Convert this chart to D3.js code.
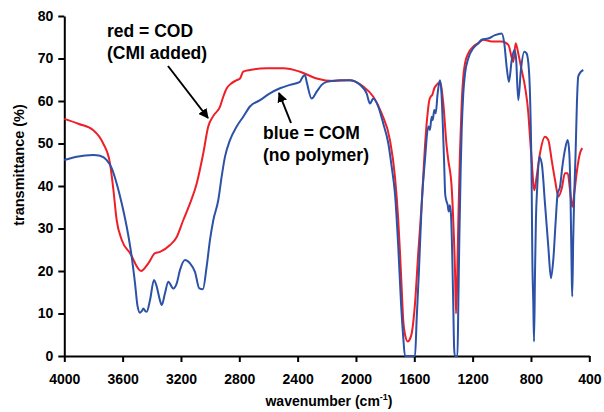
<!DOCTYPE html>
<html>
<head>
<meta charset="utf-8">
<script src="https://cdn.jsdelivr.net/npm/d3@7"></script>
<style>
  html, body { margin: 0; padding: 0; background: #fff; }
  svg { display: block; font-family: "Liberation Sans", Arial, Helvetica, sans-serif; }
</style>
</head>
<body>
<svg id="chart" width="604" height="412"></svg>
<script>
// ---- data ----
const yTicks = [0, 10, 20, 30, 40, 50, 60, 70, 80];
const xTicks = [4000, 3600, 3200, 2800, 2400, 2000, 1600, 1200, 800, 400];

// red = COD (CMI added): [wavenumber, transmittance]
const codWavenumber = [4000,3900,3803,3733,3687,3663,3641,3606,3549,3474,3424,3378,3344,3275,3229,3184,3138,3092,3047,3013,2978,2932,2910,2886,2852,2818,2795,2773,2727,2612,2498,2384,2269,2155,2041,1950,1881,1824,1767,1732,1710,1698,1687,1676,1660,1645,1630,1618,1595,1573,1549,1527,1511,1497,1488,1477,1463,1447,1424,1401,1378,1367,1344,1333,1321,1314,1307,1298,1287,1275,1264,1252,1230,1196,1161,1127,1069,1001,955,921,905,887,864,841,818,807,795,784,777,761,738,704,681,658,635,612,589,567,548,532,517,503,487,464,448];
const codT = [55.8,54.6,53.2,50,45.4,39,32,27.3,24.2,20,21.8,24.2,24.5,26.1,28,32,35.9,40.6,47.7,54,56.5,58.7,61,63,64.2,64.9,65.3,66.9,67.3,67.7,67.7,66.9,65.3,64.7,64.9,63.4,61,57.1,50.8,42,32,24.2,16.3,8.5,4.5,3.4,4.0,5.3,12.4,24.2,35.9,49.3,56.3,60.2,61,61.4,63,63.8,64.5,59.4,49.3,46.1,39.8,32,20.2,10,16.3,32,47.7,59.4,65.7,68.9,71.2,72.8,73.6,74.4,74,74,73.2,69.2,73.6,71.2,67.3,63.4,57.1,51.6,46.1,40.6,39,42.2,47.7,51.6,50.8,46.1,41.4,37.5,39.4,43,43,39,35.1,38.3,43,47.7,48.9];

// blue = COM (no polymer)
const comWavenumber = [4000,3915,3801,3755,3709,3675,3641,3606,3572,3538,3515,3498,3481,3468,3458,3445,3435,3412,3385,3366,3345,3332,3310,3287,3253,3229,3207,3172,3138,3104,3074,3050,3024,3001,2978,2944,2921,2898,2864,2818,2773,2727,2658,2590,2521,2452,2384,2372,2350,2338,2304,2269,2235,2201,2110,2041,1972,1927,1904,1881,1847,1813,1778,1755,1732,1710,1691,1676,1664,1595,1584,1568,1549,1527,1504,1493,1481,1474,1463,1453,1440,1424,1414,1404,1395,1388,1380,1371,1364,1356,1348,1340,1333,1327,1322,1304,1298,1291,1282,1275,1264,1252,1230,1196,1161,1138,1093,1047,1001,983,967,951,932,914,903,887,869,846,830,814,805,795,791,784,779,772,766,757,743,726,704,681,663,647,630,617,601,585,567,548,537,528,521,517,510,503,494,485,476,457,441];
const comT = [46.1,46.9,47.3,47.1,46.1,44.2,40.6,35.9,30.4,23.4,17.1,11.8,10.2,10.6,11.2,10.6,10.4,13.2,17.9,16.3,13.2,12,14.7,17.5,15.9,17.1,20.2,22.6,21.8,19.8,15.9,15.7,21,27.3,32,36.7,42.2,46.9,50.8,54,56.3,58.7,60.2,61.8,63,63.8,64.5,65.3,66.1,64.5,60.6,62.2,63.8,64.5,64.9,64.9,63.8,61.8,59.4,60.6,58.7,54.7,50,44.5,38,25.7,12.4,4.5,0,0,8.5,20.2,35.9,46.1,54,53.2,56.3,55.5,57.9,57.1,61.8,64.9,62,54,45,38,36.5,35.5,34,35.5,33,24,12.4,2,0,0,12.4,28,43.8,53.2,61.8,66.5,70,72.4,73.6,74.4,74.7,75.5,75.9,73.6,68.1,64.5,69.6,72,70.4,60.2,67.3,71.6,71.2,67.3,59.4,39.8,24.2,12.4,3.4,20.2,32,39.8,46.9,45.3,35.9,25.7,18.3,22.6,32,38.3,39.8,44.5,48.5,50.8,47.7,35.9,20.2,14,28,38.3,47.7,59.4,65.7,66.9,67.3];

// ---- chart ----
const svg = d3.select("#chart");
svg.append("rect").attr("width", 604).attr("height", 412).attr("fill", "#fff");

const x = d3.scaleLinear().domain([4000, 400]).range([64.3, 589.3]);
const y = d3.scaleLinear().domain([0, 80]).range([356, 16]);

const line = d3.line()
  .x(d => x(d[0]))
  .y(d => y(d[1]))
  .curve(d3.curveMonotoneX);

const cod = codWavenumber.map((w, i) => [w, codT[i]]);
const com = comWavenumber.map((w, i) => [w, comT[i]]);

// axes
const yAxis = svg.append("g")
  .attr("transform", "translate(64.3,0)")
  .call(d3.axisLeft(y).tickValues(yTicks).tickSize(6).tickSizeOuter(0).tickPadding(5));
const xAxis = svg.append("g")
  .attr("transform", "translate(0,356)")
  .call(d3.axisBottom(x).tickValues(xTicks).tickFormat(d3.format("d")).tickSize(6).tickSizeOuter(0).tickPadding(12));

[yAxis, xAxis].forEach(g => {
  g.select(".domain").attr("stroke", "#000").attr("stroke-width", 2);
  g.selectAll(".tick line").attr("stroke", "#000").attr("stroke-width", 2);
  g.selectAll(".tick text").attr("fill", "#000").attr("font-size", 14).attr("font-weight", "bold")
    .attr("font-family", "'Liberation Sans', Arial, sans-serif");
});

// series
svg.append("path").datum(cod).attr("d", line)
  .attr("fill", "none").attr("stroke", "#ee1f26").attr("stroke-width", 2).attr("stroke-linejoin", "round");
svg.append("path").datum(com).attr("d", line)
  .attr("fill", "none").attr("stroke", "#2b52a7").attr("stroke-width", 2).attr("stroke-linejoin", "round");

// axis titles
svg.append("text")
  .attr("transform", "translate(24,165) rotate(-90)")
  .attr("text-anchor", "middle")
  .attr("font-size", 14.5).attr("font-weight", "bold").attr("fill", "#000")
  .text("transmittance (%)");

const xt = svg.append("text")
  .attr("x", 329).attr("y", 406)
  .attr("text-anchor", "middle")
  .attr("font-size", 14).attr("font-weight", "bold").attr("fill", "#000");
xt.append("tspan").text("wavenumber (cm");
xt.append("tspan").attr("font-size", 9).attr("dy", -6).text("-1");
xt.append("tspan").attr("dy", 6).text(")");

// annotations
const defs = svg.append("defs");
defs.append("marker")
  .attr("id", "arr").attr("viewBox", "0 0 10 10")
  .attr("refX", 9).attr("refY", 5)
  .attr("markerWidth", 5).attr("markerHeight", 5)
  .attr("markerUnits", "strokeWidth")
  .attr("orient", "auto")
  .append("path").attr("d", "M0,0 L10,5 L0,10 Z").attr("fill", "#000");

svg.append("line").attr("x1", 168).attr("y1", 66).attr("x2", 208).attr("y2", 118)
  .attr("stroke", "#000").attr("stroke-width", 2).attr("marker-end", "url(#arr)");
svg.append("line").attr("x1", 291).attr("y1", 123).attr("x2", 279).attr("y2", 93)
  .attr("stroke", "#000").attr("stroke-width", 2).attr("marker-end", "url(#arr)");

const ann = [
  { t: "red = COD", x: 107, y: 37 },
  { t: "(CMI added)", x: 107, y: 59 },
  { t: "blue = COM", x: 263, y: 139 },
  { t: "(no polymer)", x: 263, y: 161 }
];
svg.selectAll("text.ann").data(ann).enter().append("text")
  .attr("class", "ann")
  .attr("x", d => d.x).attr("y", d => d.y)
  .attr("font-size", 17.5).attr("font-weight", "bold").attr("fill", "#000")
  .text(d => d.t);
</script>
</body>
</html>
